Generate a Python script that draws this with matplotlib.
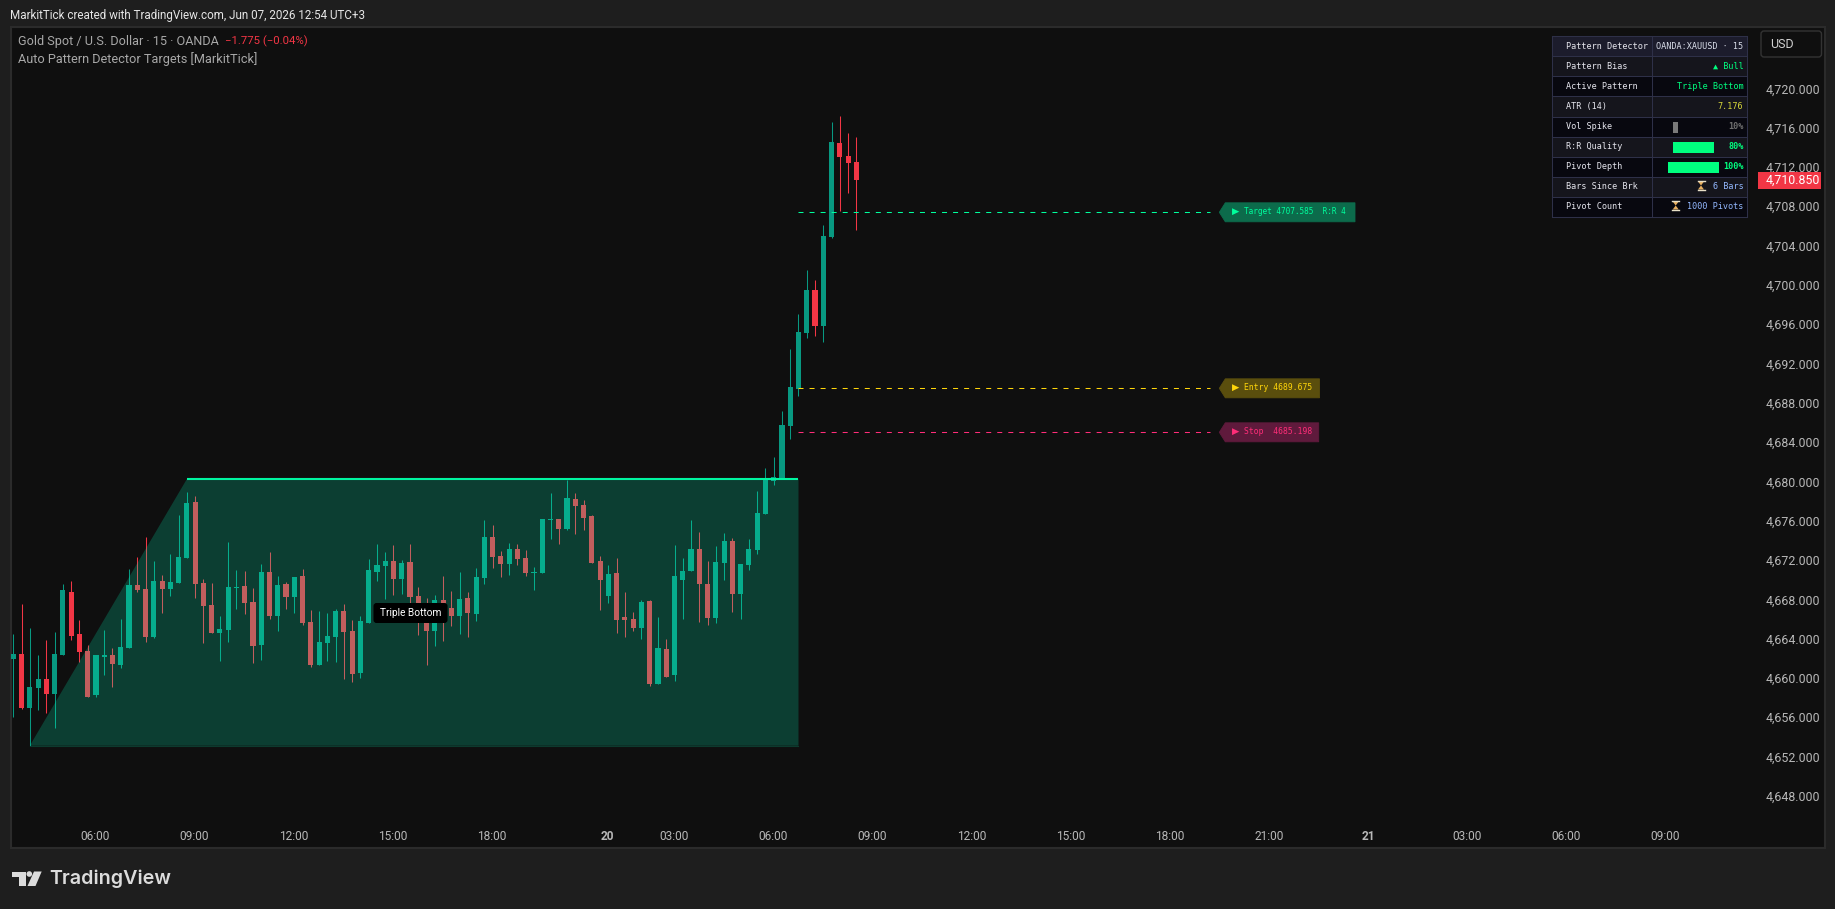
import matplotlib
matplotlib.use("Agg")
import matplotlib.pyplot as plt
from matplotlib.patches import Polygon, Rectangle, FancyBboxPatch, Circle
from matplotlib.transforms import ScaledTranslation

# 15-minute XAUUSD candles, oldest first
direction = [
    "u","d","u","u","d","u","u","d","d","d","u","u","d","u","u","d","d","u","d","u",
    "u","u","d","d","d","u","u","u","d","d","u","d","u","d","u","d","d","u","u","u",
    "d","d","u","u","u","u","d","u","d","d","d","u","d","d","u","d","u","u","d","d",
    "u","d","d","u","u","u","d","u","d","d","d","d","u","d","d","d","u","d","u","d",
    "u","u","u","d","d","u","u","d","u","u","u","u","u","u","u","u","u","d","u","u",
    "d","d","d",
]
highs = [
    4664.71,4667.72,4665.28,4662.53,4664.06,4664.87,4669.76,4670.06,4666.10,4663.55,
    4662.53,4665.08,4663.25,4666.20,4671.29,4672.51,4674.54,4672.10,4670.68,4672.81,
    4676.78,4679.12,4678.71,4670.27,4669.86,4666.50,4674.03,4671.18,4671.08,4669.35,
    4671.79,4673.02,4670.57,4669.96,4670.47,4671.29,4667.11,4667.01,4666.81,4667.22,
    4667.72,4666.10,4666.50,4672.30,4673.83,4673.02,4673.73,4672.20,4673.83,4669.45,
    4668.30,4668.64,4670.57,4669.05,4670.98,4668.95,4671.39,4676.27,4675.76,4673.12,
    4673.93,4673.83,4673.22,4671.49,4676.37,4679.02,4676.37,4680.34,4679.02,4678.31,
    4676.78,4672.61,4671.69,4672.41,4668.95,4666.91,4668.13,4668.13,4666.40,4664.16,
    4673.73,4672.41,4676.27,4675.05,4672.10,4673.63,4674.95,4674.44,4671.79,4674.34,
    4679.22,4681.56,4682.68,4687.36,4693.67,4697.23,4701.71,4700.69,4706.29,4716.77,
    4717.38,4715.65,4715.25,
]
body_tops = [
    4662.64,4662.64,4659.28,4660.09,4660.09,4662.64,4669.15,4668.95,4664.67,4662.94,
    4662.53,4662.53,4662.53,4663.35,4669.66,4669.66,4669.25,4670.06,4670.06,4669.96,
    4672.51,4678.00,4678.10,4669.86,4667.62,4665.18,4669.45,4669.45,4669.56,4667.93,
    4670.98,4670.98,4669.66,4669.76,4670.47,4670.57,4665.89,4663.86,4664.47,4667.01,
    4667.01,4664.98,4665.99,4671.18,4671.69,4672.10,4672.10,4671.90,4672.00,4668.54,
    4667.52,4668.13,4668.13,4667.32,4668.23,4668.33,4670.47,4674.54,4674.54,4672.61,
    4673.32,4673.32,4672.41,4670.98,4676.37,4676.37,4676.37,4678.51,4678.41,4677.80,
    4676.68,4672.10,4670.78,4670.88,4666.40,4666.20,4667.93,4668.03,4663.25,4663.15,
    4670.57,4671.08,4673.32,4673.32,4669.76,4672.00,4674.13,4674.13,4671.79,4673.32,
    4676.98,4680.44,4680.65,4685.94,4689.81,4695.40,4699.68,4699.68,4705.17,4714.74,
    4714.64,4713.31,4712.70,
]
body_bottoms = [
    4662.13,4657.14,4657.14,4659.18,4658.57,4658.57,4662.53,4664.47,4662.84,4658.26,
    4658.46,4662.33,4661.62,4661.52,4663.25,4669.15,4664.37,4664.37,4669.25,4669.25,
    4669.86,4672.41,4669.76,4667.52,4664.77,4664.77,4665.08,4669.35,4667.83,4663.45,
    4663.55,4666.50,4666.50,4668.44,4668.44,4665.79,4661.52,4661.52,4663.76,4664.37,
    4664.87,4660.60,4660.70,4665.79,4670.98,4671.59,4670.27,4670.27,4668.44,4665.79,
    4664.98,4664.98,4666.10,4666.50,4666.50,4666.81,4666.71,4670.37,4672.51,4671.79,
    4671.79,4672.30,4670.88,4670.88,4670.88,4676.27,4675.36,4675.36,4677.70,4676.48,
    4671.90,4670.17,4668.54,4666.10,4666.10,4665.28,4665.28,4659.58,4659.58,4660.30,
    4660.50,4670.17,4671.08,4669.76,4666.30,4666.30,4671.90,4668.74,4668.74,4671.69,
    4673.22,4676.88,4680.24,4680.44,4685.84,4689.60,4695.30,4696.01,4696.01,4705.07,
    4713.21,4712.60,4710.85,
]
lows = [
    4656.26,4657.04,4653.31,4656.94,4656.63,4655.11,4662.53,4664.06,4661.82,4658.26,
    4658.26,4660.50,4659.28,4661.21,4663.25,4668.95,4663.86,4664.26,4666.81,4668.54,
    4669.86,4672.41,4668.33,4663.76,4664.77,4661.92,4663.86,4667.22,4666.71,4661.72,
    4662.03,4666.20,4664.98,4667.22,4666.81,4665.59,4661.31,4661.52,4661.92,4661.82,
    4660.09,4659.79,4660.19,4665.79,4670.06,4668.23,4668.64,4668.74,4667.83,4664.57,
    4661.52,4663.45,4663.96,4665.49,4664.67,4664.37,4665.99,4669.76,4671.39,4670.47,
    4670.68,4671.69,4670.57,4669.15,4670.88,4674.34,4673.83,4675.25,4674.85,4675.25,
    4671.90,4667.11,4667.83,4664.77,4664.37,4664.98,4664.16,4659.38,4659.58,4660.30,
    4659.89,4666.20,4671.08,4665.89,4665.59,4665.79,4670.17,4666.91,4666.20,4671.18,
    4672.81,4676.88,4679.83,4680.44,4684.51,4688.89,4694.79,4695.00,4694.39,4704.97,
    4707.72,4709.55,4705.78,
]

# Detected pattern and trade levels
pattern_name = "Triple Bottom"
neckline = 4680.44
pattern_floor = 4653.31
pattern_start, pattern_neck, pattern_end = 3, 22, 96
target_level = 4707.585
entry_level = 4689.675
stop_level = 4685.198
last_price = 4710.850
levels_start, levels_end = 96, 145.8

# Axis ticks, positioned in bar numbers
price_ticks = list(range(4648, 4724, 4))
time_ticks = [11, 23, 35, 47, 59, 73, 81, 93, 105, 117, 129, 141, 153, 165, 177, 189, 201]
time_labels = ["06:00", "09:00", "12:00", "15:00", "18:00", "20", "03:00", "06:00", "09:00",
               "12:00", "15:00", "18:00", "21:00", "21", "03:00", "06:00", "09:00"]

# Info panel rows
panel_labels = ["Pattern Detector", "Pattern Bias", "Active Pattern", "ATR (14)", "Vol Spike",
                "R:R Quality", "Pivot Depth", "Bars Since Brk", "Pivot Count"]
panel_values = ["OANDA:XAUUSD · 15", "▲ Bull", "Triple Bottom", "7.176", "10%", "80%", "100%",
                "6 Bars", "1000 Pivots"]
panel_colors = ["#d8dce8", "#00ff7f", "#00ff7f", "#d8d83a", "#6f6f6f", "#00ff7f", "#00ff7f",
                "#93b8ff", "#93b8ff"]
meter_pcts = {4: 10, 5: 80, 6: 100}

W, H = 1835, 909
BG = "#0f0f0f"
FRAME = "#1e1e1e"
UP, DOWN = "#089981", "#f23645"
MONO = "DejaVu Sans Mono"
SANS = "Roboto"

fig = plt.figure(figsize=(W / 100, H / 100), dpi=100, facecolor=FRAME)
L, R, T, B = 11, 1825, 27, 848
ax = fig.add_axes([L / W, 1 - B / H, (R - L) / W, (B - T) / H], facecolor=BG)
ax.set_xlim(0.722, 220.2)
ax.set_ylim(4642.90, 4726.44)
for s in ax.spines.values():
    s.set_color("#2b2b2b")
    s.set_linewidth(1.5)

# Candles
n = list(range(1, len(highs) + 1))
colors = [UP if d == "u" else DOWN for d in direction]
ax.vlines(n, lows, highs, colors=colors, linewidth=0.75, zorder=2)
ax.bar(n, [t - b for t, b in zip(body_tops, body_bottoms)], bottom=body_bottoms,
       width=0.62, color=colors, linewidth=0, zorder=3)

# Pattern area laid over the candles
ax.add_patch(Polygon([(pattern_start, pattern_floor), (pattern_neck, neckline),
                      (pattern_end, neckline), (pattern_end, pattern_floor)],
                     closed=True, facecolor="#00ffc0", alpha=0.2, linewidth=0, zorder=4))
ax.plot([pattern_start, pattern_end], [pattern_floor, pattern_floor], color="#0d3a2e",
        linewidth=0.8, zorder=4)
ax.plot([pattern_neck, pattern_end], [neckline, neckline], color="#00f5a0", linewidth=1.5, zorder=5,
        solid_capstyle="butt")

# Trade levels
level_styles = [(target_level, "#00ff9d"), (entry_level, "#ffd60a"), (stop_level, "#ff2d78")]
for lvl, col in level_styles:
    ax.plot([levels_start, levels_end], [lvl, lvl], color=col, linewidth=0.75,
            dashes=(4.8, 5.8), zorder=5)

# Axis ticks sit inside the plot area
ax.yaxis.tick_right()
ax.set_yticks(price_ticks, [f"{p:,.3f}" for p in price_ticks])
ax.set_xticks(time_ticks, time_labels)
ax.tick_params(axis="y", length=0, pad=-43, labelsize=8.9, labelcolor="#b8b8b8")
ax.tick_params(axis="x", length=0, pad=-13, labelsize=8.6, labelcolor="#b8b8b8")
y_nudge = ScaledTranslation(0, 2 * 0.72 / 72, fig.dpi_scale_trans)
x_nudge = ScaledTranslation(-0.7 * 0.72 / 72, 0, fig.dpi_scale_trans)
for lbl in ax.get_yticklabels():
    lbl.set_fontfamily(SANS)
    lbl.set_transform(lbl.get_transform() + y_nudge)
for lbl, txt in zip(ax.get_xticklabels(), time_labels):
    lbl.set_fontfamily(SANS)
    lbl.set_transform(lbl.get_transform() + x_nudge)
    if len(txt) == 2:
        lbl.set_fontweight("bold")

# Overlay in figure pixels for header, panel and tags
ov = fig.add_axes([0, 0, 1, 1], facecolor="none", zorder=10)
ov.set_xlim(0, W)
ov.set_ylim(H, 0)
ov.axis("off")


def price_px(p):
    return H - ax.transData.transform((1, p))[1]


def text(x, y, s, size=8.6, color="#d1d1d1", ha="left", family=SANS, **kw):
    return ov.text(x, y, s, fontsize=size, color=color, ha=ha, va="center",
                   family=family, **kw)


# Header and legend
text(10, 15, "MarkitTick created with TradingView.com, Jun 07, 2026 12:54 UTC+3", 8.4, "#e6e6e6")
text(18, 41.5, "Gold Spot / U.S. Dollar · 15 · OANDA", 9.05, "#a8a8a8")
text(225, 41.5, "−1.775 (−0.04%)", 8.2, "#f23645")
text(18, 59, "Auto Pattern Detector Targets [MarkitTick]", 9.2, "#a8a8a8")

# Pattern tag
ov.add_patch(FancyBboxPatch((375, 604.5), 71, 17, boxstyle="round,pad=1.5,rounding_size=3",
                            facecolor="black", edgecolor="none"))
text(410.5, 613, pattern_name, 7.3, "white", ha="center")

# Level tags
tag_specs = [
    (target_level, 1355, "#0c6b4b", "#00ff9d", f"Target {target_level:.3f}  R:R 4", 5.6),
    (entry_level, 1319.5, "#5a4e0d", "#ffd60a", f"Entry {entry_level:.3f}", 5.8),
    (stop_level, 1318.7, "#5f1a3c", "#ff2d78", f"Stop  {stop_level:.3f}", 5.8),
]
for lvl, right, fill, fg, label, size in tag_specs:
    y = price_px(lvl)
    ov.add_patch(Polygon([(1219.3, y), (1225.3, y - 9.5), (right, y - 9.5), (right, y + 9.5),
                          (1225.3, y + 9.5)], closed=True, facecolor=fill,
                         edgecolor=fill, linewidth=0.6))
    text(1232, y - 0.5, "▶", 6.8, fg, family="DejaVu Sans")
    text(1244, y - 0.5, label, size, fg, family=MONO)

# Info panel
px0, px1, pxm, py0, rh = 1552.3, 1747.3, 1652.3, 36.3, 20.05
for i, (lab, val, col) in enumerate(zip(panel_labels, panel_values, panel_colors)):
    y = py0 + i * rh
    if i == 0:
        face = "#1c1c2c"
    else:
        face = "#15151c" if i % 2 else "#08080f"
    ov.add_patch(Rectangle((px0, y), px1 - px0, rh, facecolor=face, edgecolor="none"))
    text(1566, y + rh / 2 - 0.3, lab, 6.1, "#e6e6ee", family=MONO)
    if i in meter_pcts:
        text(1743.5, y + rh / 2 - 0.3, val, 6.1, col, ha="right", family=MONO, fontweight="bold")
        pct = meter_pcts[i]
        width = pct * 0.51
        left = 1673 if i != 6 else 1668
        ov.add_patch(Rectangle((left, y + 5), width, 11,
                               facecolor="#7a7a7a" if i == 4 else "#00ff7f", edgecolor="none"))
    else:
        text(1743.5, y + rh / 2 - 0.3, val, 6.1, col, ha="right", family=MONO)
for i in range(10):
    y = py0 + i * rh
    ov.plot([px0, px1], [y, y], color="#2e3048", linewidth=0.75)
for x in (px0, pxm, px1):
    ov.plot([x, x], [py0, py0 + 9 * rh], color="#2e3048", linewidth=0.75)

# Hourglass icons in the last two rows
for cx, cy in [(1701, 185.5), (1675.7, 205.5)]:
    ov.add_patch(Polygon([(cx - 3, cy - 4), (cx + 3, cy - 4), (cx, cy), (cx + 3, cy + 4), (cx - 3, cy + 4),
                          (cx, cy)], closed=True, facecolor="#e8b060", edgecolor="none"))
    ov.plot([cx - 3.5, cx + 3.5], [cy - 4.5, cy - 4.5], color="#e8e0c8", linewidth=1)
    ov.plot([cx - 3.5, cx + 3.5], [cy + 4.5, cy + 4.5], color="#e8e0c8", linewidth=1)

# Currency button
ov.add_patch(FancyBboxPatch((1763, 33), 56.5, 22, boxstyle="round,pad=2,rounding_size=3",
                            facecolor=BG, edgecolor="#333333", linewidth=1))
text(1770, 44, "USD", 9, "#d1d1d1")

# Last price tag
yp = price_px(last_price)
ov.add_patch(Rectangle((1758, yp - 8.5), 63, 17, facecolor=DOWN, edgecolor="none"))
text(1766, yp - 0.3, f"{last_price:,.3f}", 8.9, "white")

# Logo
logo_col = "#dcdcdc"
ov.add_patch(Polygon([(12, 871.5), (26, 871.5), (26, 886), (19, 886), (19, 877), (12, 877)],
                     closed=True, facecolor=logo_col, edgecolor="none"))
ov.add_patch(Circle((29.3, 874), 2.8, facecolor=logo_col, edgecolor="none"))
ov.add_patch(Polygon([(34, 871.5), (41.7, 871.5), (35.5, 886), (27.5, 886)], closed=True,
                     facecolor=logo_col, edgecolor="none"))
text(49, 879, "TradingView", 14.2, logo_col, family="Inter", fontweight="semibold")

fig.savefig("out.png", dpi=100, facecolor=FRAME)
